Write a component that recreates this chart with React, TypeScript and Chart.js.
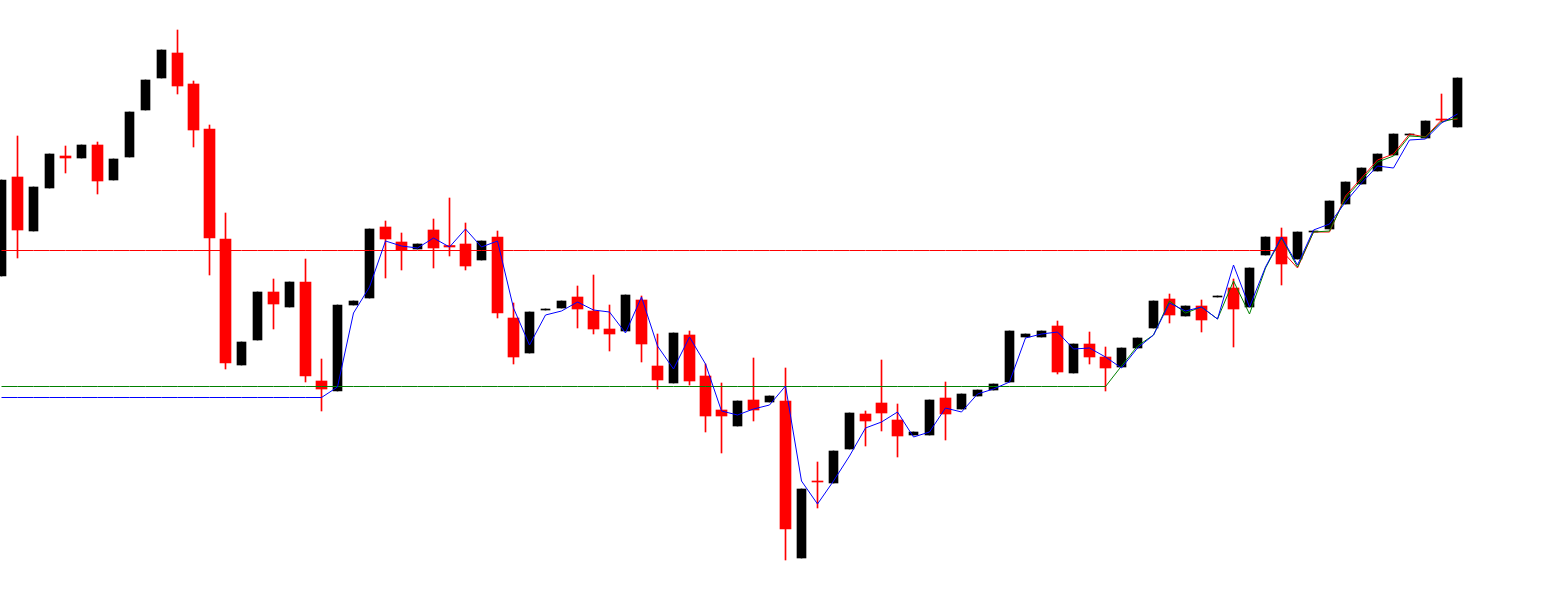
import React, { useEffect, useRef } from "react";
import { Chart, registerables } from "chart.js";

Chart.register(...registerables);

// Candle index 0..91 (one candle per bar slot); prices in chart points
const opens = [
  338, 437, 383, 426, 458, 456, 469, 434, 457, 504,
  536, 561, 530, 485, 375, 249, 274, 322, 307, 332,
  233, 223, 309, 316, 387, 372, 365, 384, 368.5, 370,
  354, 377, 296, 261, 304, 306, 317, 303, 285, 283,
  314, 248, 231, 279, 238, 204, 188, 214, 212, 213,
  56, 133, 131, 165, 200, 211, 194, 179, 179, 216,
  205, 218, 224, 232, 277, 277, 288, 241, 270, 257,
  247, 266, 286, 315, 298, 308, 317, 326, 307, 359,
  377, 355, 382, 385, 410, 430, 443, 459, 479, 476,
  495, 487,
];
const highs = [
  434, 478, 427, 460, 468, 469, 472, 455, 502, 534,
  564, 584, 533, 489, 401, 272, 322, 335, 332, 355,
  255, 309, 313, 385, 393, 381, 370, 395, 416, 391,
  373, 383, 311, 302, 305, 313, 328, 339, 309, 319,
  318, 280, 281, 283, 250, 231, 213, 256, 218, 246,
  125, 152, 163, 201, 203, 254, 210, 182, 214, 232,
  220, 224, 230, 283, 280, 283, 293, 270, 282, 267,
  266, 276, 313, 320, 308, 314, 318, 335, 346, 377,
  386, 382, 383, 413, 432, 446, 460, 480, 480, 493,
  520, 536,
];
const lows = [
  338, 356, 383, 426, 441, 456, 420, 434, 457, 504,
  536, 520, 467, 339, 245, 249, 274, 285, 307, 232,
  203, 223, 309, 316, 336, 344, 365, 346, 358, 344,
  354, 296, 250, 261, 304, 306, 286, 280, 263, 283,
  252, 225, 231, 229, 182, 161, 188, 193, 212, 54,
  56, 106, 131, 165, 168, 183, 157, 179, 179, 174,
  205, 218, 224, 232, 277, 277, 240, 241, 250, 223,
  247, 266, 286, 291, 298, 282, 317, 267, 307, 359,
  329, 355, 382, 385, 410, 430, 443, 459, 479, 476,
  492, 487,
];
const closes = [
  434, 384, 427, 460, 456, 469, 433, 455, 502, 534,
  564, 528, 484, 376, 251, 272, 322, 310, 332, 238,
  225, 309, 313, 385, 375, 364, 370, 366, 367, 348,
  373, 301, 257, 302, 305, 313, 305, 285, 280, 319,
  270, 234, 281, 233, 198, 198, 213, 204, 218, 85,
  125, 132, 163, 201, 193, 201, 178, 182, 214, 200,
  220, 224, 230, 283, 280, 283, 242, 270, 257, 246,
  266, 276, 313, 299, 308, 294, 318, 305, 346, 377,
  350, 382, 383, 413, 432, 446, 460, 480, 480, 493,
  494, 536,
];

const blueLine = [
  216.5, 216.5, 216.5, 216.5, 216.5, 216.5, 216.5, 216.5, 216.5, 216.5,
  216.5, 216.5, 216.5, 216.5, 216.5, 216.5, 216.5, 216.5, 216.5, 216.5,
  216.5, 227, 301, 327, 373, 368, 366, 376, 367, 385,
  367, 373, 306, 269, 299, 303, 312, 304, 302, 281,
  317, 268, 245, 277, 250, 203, 199, 205, 209, 228,
  133, 110, 133, 158, 186, 192, 202, 177, 182, 206,
  202, 220, 225, 232, 276, 280, 282, 265, 266, 257,
  246, 266, 279, 311, 303, 307, 295, 349, 307, 347,
  377, 349, 384, 390, 412, 431, 448, 446, 474, 475,
  491, 500,
];
const greenLine = [
  227.5, 227.5, 227.5, 227.5, 227.5, 227.5, 227.5, 227.5, 227.5, 227.5,
  227.5, 227.5, 227.5, 227.5, 227.5, 227.5, 227.5, 227.5, 227.5, 227.5,
  227.5, 227.5, 227.5, 227.5, 227.5, 227.5, 227.5, 227.5, 227.5, 227.5,
  227.5, 227.5, 227.5, 227.5, 227.5, 227.5, 227.5, 227.5, 227.5, 227.5,
  227.5, 227.5, 227.5, 227.5, 227.5, 227.5, 227.5, 227.5, 227.5, 227.5,
  227.5, 227.5, 227.5, 227.5, 227.5, 227.5, 227.5, 227.5, 227.5, 227.5,
  227.5, 227.5, 227.5, 227.5, 227.5, 227.5, 227.5, 227.5, 227.5, 227.5,
  248, 268, 279, 313, 301, 307, 295, 333, 300, 346,
  376, 347, 382, 383, 416, 434, 452, 458, 478, 477,
  492, 496,
];
const redLine = [
  363.5, 363.5, 363.5, 363.5, 363.5, 363.5, 363.5, 363.5, 363.5, 363.5,
  363.5, 363.5, 363.5, 363.5, 363.5, 363.5, 363.5, 363.5, 363.5, 363.5,
  363.5, 363.5, 363.5, 363.5, 363.5, 363.5, 363.5, 363.5, 363.5, 363.5,
  363.5, 363.5, 363.5, 363.5, 363.5, 363.5, 363.5, 363.5, 363.5, 363.5,
  363.5, 363.5, 363.5, 363.5, 363.5, 363.5, 363.5, 363.5, 363.5, 363.5,
  363.5, 363.5, 363.5, 363.5, 363.5, 363.5, 363.5, 363.5, 363.5, 363.5,
  363.5, 363.5, 363.5, 363.5, 363.5, 363.5, 363.5, 363.5, 363.5, 363.5,
  363.5, 363.5, 363.5, 363.5, 363.5, 363.5, 363.5, 363.5, 363.5, 363.5,
  363.5, 346, 382, 382, 418, 436, 454, 460, 480, 477,
  494, 495,
];

const W = 1561;
const H = 614;
const SLOT = 16; // pixels per candle
const FIRST = 1.5; // pixel centre of first candle

export default function App() {
  const ref = useRef<HTMLCanvasElement>(null);

  useEffect(() => {
    if (!ref.current) return;
    const idx = opens.map((_, i) => i);
    const bear = (i: number) => closes[i] < opens[i];
    const redBodies = idx.filter(bear).map((i) => ({ x: i, y: [opens[i], closes[i]] }));
    const blackBodies = idx.filter((i) => !bear(i)).map((i) => ({ x: i, y: [opens[i], closes[i]] }));
    const wicks = idx.map((i) => ({ x: i, y: [lows[i], highs[i]] }));
    const wickColors = idx.map((i) => (bear(i) ? "#ff0000" : "#000000"));
    const asLine = (arr: number[]) => arr.map((v, i) => ({ x: i, y: v }));

    const lineDs = (data: number[], color: string, order: number) => ({
      type: "line" as const,
      data: asLine(data),
      borderColor: color,
      backgroundColor: color,
      borderWidth: 1,
      pointRadius: 0,
      pointHoverRadius: 0,
      tension: 0,
      fill: false,
      order,
    });

    const chart = new Chart(ref.current, {
      type: "bar",
      data: {
        datasets: [
          lineDs(blueLine, "#0000ff", 0),
          lineDs(greenLine, "#008000", 1),
          lineDs(redLine, "#ff0000", 2),
          {
            type: "bar",
            data: redBodies,
            backgroundColor: "#ff0000",
            borderWidth: 0,
            barThickness: 11,
            maxBarThickness: 11,
            grouped: false,
            order: 3,
          },
          {
            type: "bar",
            data: blackBodies,
            backgroundColor: "#000000",
            borderWidth: 0,
            barThickness: 9,
            maxBarThickness: 9,
            grouped: false,
            order: 3,
          },
          {
            type: "bar",
            data: wicks,
            backgroundColor: wickColors,
            borderWidth: 0,
            barThickness: 1,
            maxBarThickness: 1,
            grouped: false,
            order: 4,
          },
        ] as any,
      },
      options: {
        animation: false,
        responsive: false,
        maintainAspectRatio: false,
        events: [],
        layout: { padding: 0 },
        plugins: { legend: { display: false }, tooltip: { enabled: false } },
        scales: {
          x: {
            type: "linear",
            display: false,
            offset: false,
            min: -FIRST / SLOT,
            max: -FIRST / SLOT + W / SLOT,
          },
          y: {
            type: "linear",
            display: false,
            min: 0,
            max: H,
          },
        },
      },
    });
    return () => chart.destroy();
  }, []);

  return (
    <div style={{ position: "absolute", left: 0, top: 0, width: W, height: H, background: "#ffffff" }}>
      <canvas ref={ref} width={W} height={H} style={{ display: "block", width: W, height: H }} />
    </div>
  );
}
